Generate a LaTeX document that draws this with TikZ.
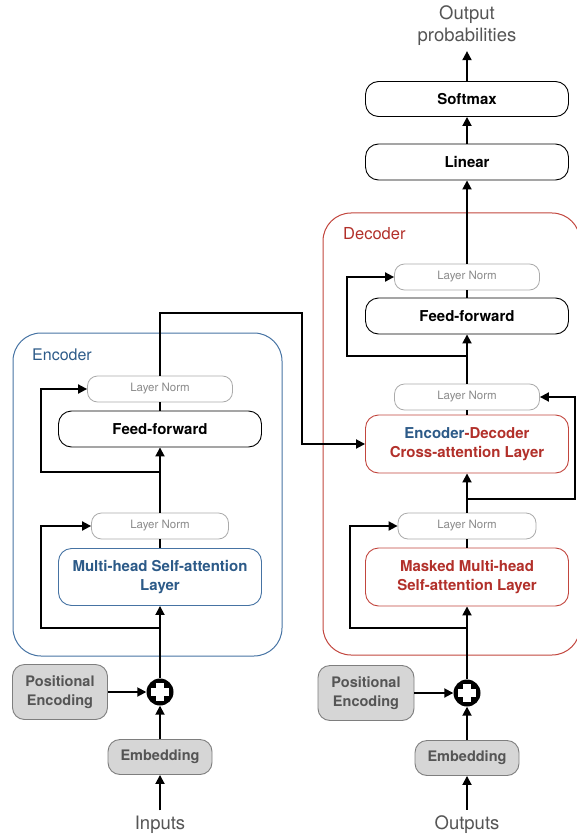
\documentclass[tikz,border=0pt]{standalone}
\usepackage{fontspec}
\setmainfont{TeX Gyre Heros}
\usepackage{tikz}
\usetikzlibrary{arrows.meta}
\definecolor{EncBlue}{HTML}{2C5A88}
\definecolor{EncEdge}{HTML}{4673A3}
\definecolor{DecRed}{HTML}{B2302A}
\definecolor{DecEdge}{HTML}{C2463E}
\definecolor{NormEdge}{HTML}{ABABAB}
\definecolor{NormText}{HTML}{8A8A8A}
\definecolor{GreyFill}{HTML}{D6D6D6}
\definecolor{GreyEdge}{HTML}{7E7E7E}
\definecolor{GreyText}{HTML}{555555}
\tikzstyle{none}=[inner sep=0pt]
\tikzstyle{block}=[draw=black, line width=0.9, fill=white, rounded corners=13, minimum width=203, minimum height=36, align=center, font=\bfseries\fontsize{15}{19}\selectfont]
\tikzstyle{encblock}=[block, draw=EncEdge, text=EncBlue, minimum height=57]
\tikzstyle{decblock}=[block, draw=DecEdge, text=DecRed, minimum height=58]
\tikzstyle{norm}=[draw=NormEdge, line width=0.8, fill=white, rounded corners=10, minimum width=145, minimum height=26, text=NormText, font=\fontsize{11.5}{13}\selectfont]
\tikzstyle{grey}=[draw=GreyEdge, line width=0.9, fill=GreyFill, rounded corners=12, minimum width=104, minimum height=35, align=center, text=GreyText, font=\bfseries\fontsize{14.5}{19}\selectfont]
\tikzstyle{sum}=[circle, fill=black, minimum size=27, inner sep=0pt, path picture={
  \fill[white] (path picture bounding box.center) ++(-9,-3.6) rectangle ++(18,7.2);
  \fill[white] (path picture bounding box.center) ++(-3.6,-9) rectangle ++(7.2,18);}]
\tikzstyle{label}=[inner sep=2pt, align=center, text=GreyText, font=\fontsize{18.5}{22}\selectfont]
\tikzstyle{simple}=[-, draw=black, line width=1.8]
\tikzstyle{arrow}=[simple, -{Triangle[length=9,width=9]}]

\begin{document}
\begin{tikzpicture}[x=1pt, y=-1pt]
  \useasboundingbox (0, 0) rectangle (577, 834);
  % frames
  \draw [draw=EncEdge, line width=1, rounded corners=28] (13, 333) rectangle (282, 656);
  \draw [draw=DecEdge, line width=1, rounded corners=28] (323, 213) rectangle (580, 655);
  \node [style=none, anchor=west, text=EncBlue, font=\fontsize{16}{18}\selectfont] (0) at (32, 355) {Encoder};
  \node [style=none, anchor=west, text=DecRed, font=\fontsize{16.5}{18}\selectfont] (1) at (343, 234) {Decoder};
  % encoder side
  \node [style=label, anchor=base] (2) at (160, 829) {Inputs};
  \node [style=grey] (3) at (160, 757) {Embedding};
  \node [style=sum] (4) at (160, 692) {};
  \node [style=grey, minimum width=95, minimum height=55] (5) at (60, 692) {Positional\\Encoding};
  \node [style=encblock] (6) at (160, 577) {Multi-head Self-attention\\Layer};
  \node [style=norm, minimum width=137] (7) at (160, 526) {Layer Norm};
  \node [style=block] (8) at (160, 429) {Feed-forward};
  \node [style=norm] (9) at (160, 389) {Layer Norm};
  \coordinate (10) at (160, 628);
  \coordinate (11) at (41, 628);
  \coordinate (12) at (160, 472);
  \coordinate (13) at (41, 472);
  \coordinate (14) at (302, 313);
  % decoder side
  \node [style=label, anchor=base] (15) at (467, 829) {Outputs};
  \node [style=grey] (16) at (467, 758) {Embedding};
  \node [style=sum] (17) at (467, 693) {};
  \node [style=grey, minimum width=96, minimum height=55] (18) at (366, 693) {Positional\\Encoding};
  \node [style=decblock] (19) at (467, 577) {Masked Multi-head\\Self-attention Layer};
  \node [style=norm, minimum width=138] (20) at (467, 526) {Layer Norm};
  \node [style=decblock] (21) at (467, 444) {\textcolor{EncBlue}{Encoder}-Decoder\\Cross-attention Layer};
  \node [style=norm] (22) at (467, 397) {Layer Norm};
  \node [style=block] (23) at (467, 316) {Feed-forward};
  \node [style=norm] (24) at (467, 277) {Layer Norm};
  \node [style=block] (25) at (467, 162) {Linear};
  \node [style=block, minimum height=35] (26) at (467, 99) {Softmax};
  \node [style=label] (27) at (467, 26) {Output\\probabilities};
  \coordinate (28) at (467, 628);
  \coordinate (29) at (350, 628);
  \coordinate (30) at (467, 499);
  \coordinate (31) at (575, 499);
  \coordinate (32) at (467, 356);
  \coordinate (33) at (347, 356);
  % encoder connectors
  \draw [style=arrow, shorten <=3] (2) to (3);
  \draw [style=arrow] (3) to (4);
  \draw [style=arrow] (5) to (4);
  \draw [style=arrow] (4) to (6);
  \draw [style=simple] (6) to (7);
  \draw [style=arrow] (7) to (8);
  \draw [style=simple] (8) to (9);
  \draw [style=arrow] (10) to (11) |- (7.west);
  \draw [style=arrow] (12) to (13) |- (9.west);
  \draw [style=arrow] (9.north) |- (14) |- (21.west);
  % decoder connectors
  \draw [style=arrow, shorten <=3] (15) to (16);
  \draw [style=arrow] (16) to (17);
  \draw [style=arrow] (18) to (17);
  \draw [style=arrow] (17) to (19);
  \draw [style=simple] (19) to (20);
  \draw [style=arrow] (20) to (21);
  \draw [style=simple] (21) to (22);
  \draw [style=arrow] (22) to (23);
  \draw [style=simple] (23) to (24);
  \draw [style=arrow] (24) to (25);
  \draw [style=arrow] (25) to (26);
  \draw [style=arrow, shorten >=3] (26) to (27);
  \draw [style=arrow] (28) to (29) |- (20.west);
  \draw [style=arrow] (30) to (31) |- (22.east);
  \draw [style=arrow] (32) to (33) |- (24.west);
\end{tikzpicture}
\end{document}
